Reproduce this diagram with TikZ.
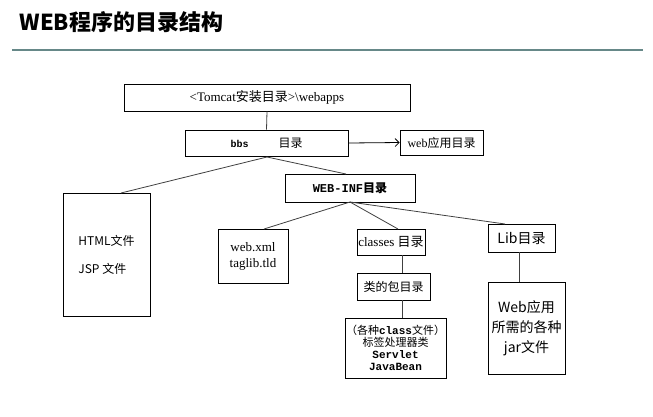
\documentclass[tikz,border=0pt]{standalone}
\usepackage{fontspec}
\setmainfont{Liberation Serif}
\newfontfamily\cjk{Noto Sans CJK SC}
\newfontfamily\mono{Liberation Mono}
\usetikzlibrary{arrows.meta}
\begin{document}
\begin{tikzpicture}[x=1pt,y=-1pt,
 bx/.style={draw,thick,inner sep=0pt,font=\cjk\fontsize{12}{14}\selectfont},
 ln/.style={thick,draw=black!75}]
\useasboundingbox (0,0) rectangle (653,416);
\node[anchor=west,font=\cjk\bfseries\fontsize{22}{24}\selectfont] (title) at (16,22) {WEB程序的目录结构};
\draw[line width=2pt,draw=black!55!teal!60] (12,50) -- (643,50);
\node[bx,minimum width=286pt,minimum height=27pt] (top) at (267,97.5) {\normalfont\fontsize{13}{15}\selectfont<Tomcat{\cjk 安装目录}>\textbackslash webapps};
\node[bx,minimum width=163pt,minimum height=26pt] (bbs) at (266.5,143) {{\mono\bfseries\fontsize{10}{12}\selectfont bbs}\hspace{30pt}目录};
\node[bx,minimum width=83pt,minimum height=25pt] (wa) at (441.5,142.5) {\normalfont\fontsize{12}{14}\selectfont web{\cjk 应用目录}};
\node[bx,minimum width=130pt,minimum height=28pt] (inf) at (350,188) {\mono\bfseries\fontsize{12}{14}\selectfont WEB-INF{\cjk 目录}};
\node[bx,minimum width=87pt,minimum height=123pt,align=left] (html) at (106.5,254.5) {HTML文件\\[14pt]JSP 文件};
\node[bx,minimum width=70pt,minimum height=54pt,align=center,font=\normalfont\fontsize{13}{16}\selectfont] (xml) at (253,256) {web.xml\\taglib.tld};
\node[bx,minimum width=68pt,minimum height=26pt] (cls) at (391,242) {\normalfont\fontsize{13}{15}\selectfont classes {\cjk 目录}};
\node[bx,minimum width=67pt,minimum height=28pt] (lib) at (521.5,238) {\fontsize{14}{16}\selectfont Lib目录};
\node[bx,minimum width=73pt,minimum height=27pt] (pkg) at (393.5,286.5) {类的包目录};
\node[bx,minimum width=101pt,minimum height=60pt,align=center,font=\cjk\fontsize{11}{12}\selectfont] (cf) at (395.5,348) {（各种{\mono\bfseries class}文件）\\标签处理器类\\{\mono\bfseries Servlet}\\{\mono\bfseries JavaBean}};
\node[bx,minimum width=77pt,minimum height=92pt,align=center,font=\cjk\fontsize{14}{20}\selectfont] (jar) at (526.5,328) {Web应用\\所需的各种\\jar文件};
\draw[ln] (top.south) -- (bbs.north);
\draw[thick,-{Straight Barb[length=4pt]}] (bbs.east) -- (wa.west);
\coordinate (b1) at (267,157);
\draw[ln] (b1) -- (121,193);
\draw[ln] (b1) -- (346,174);
\coordinate (w1) at (350,202);
\draw[ln] (w1) -- (264,229);
\draw[ln] (w1) -- (398,229);
\draw[ln] (w1) -- (505,224);
\draw[ln] (cls.south -| 402,0) -- (pkg.north -| 402,0);
\draw[ln] (pkg.south -| 402,0) -- (cf.north -| 402,0);
\draw[ln] (lib.south -| 519,0) -- (jar.north -| 519,0);
\end{tikzpicture}
\end{document}
